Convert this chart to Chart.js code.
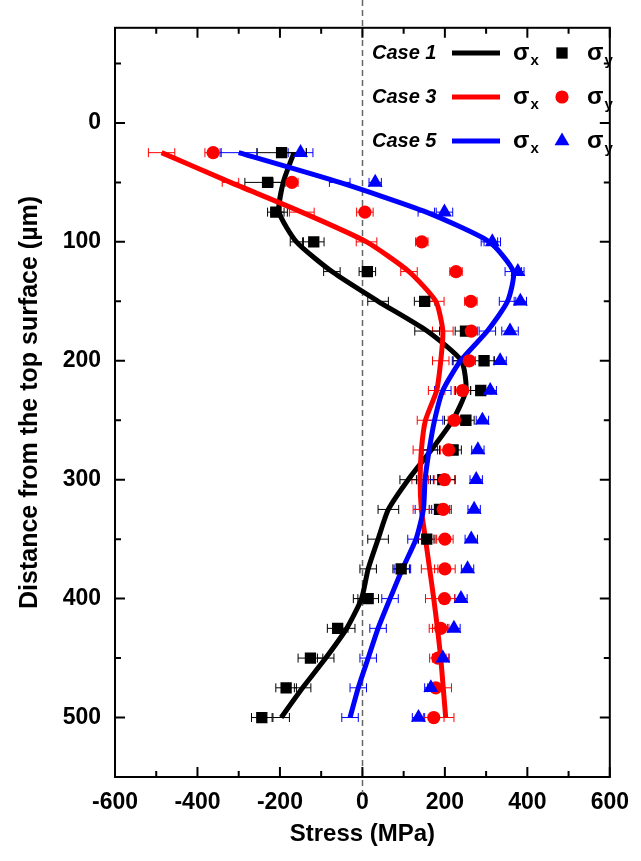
<!DOCTYPE html>
<html>
<head>
<meta charset="utf-8">
<script src="https://cdn.jsdelivr.net/npm/chart.js@4.4.1/dist/chart.umd.min.js"></script>
<style>
    html, body { margin: 0; padding: 0; background: #fff; }
    #wrap { width: 641px; height: 861px; position: relative; }
</style>
</head>
<body>
<div id="wrap"><canvas id="stressChart"></canvas></div>
<script>
// depth below the top surface (µm)
const depth = [25, 50, 75, 100, 125, 150, 175, 200, 225, 250, 275, 300, 325, 350, 375, 400, 425, 450, 475, 500];

// Case 1
const case1Sx = [-166, -192, -202, -160, -74, 38, 157, 240, 251, 219, 167, 111, 63, 38, 14, -2, -38, -89, -145, -197];
const case1SxErr = [30, 25, 20, 15, 20, 25, 30, 20, 25, 20, 20, 20, 25, 25, 20, 20, 20, 20, 20, 20];
const case1Sy = [-196, -230, -210, -118, 12, 151, 250, 295, 287, 251, 220, 195, 187, 156, 94, 14, -60, -126, -185, -244];
const case1SyErr = [60, 55, 20, 25, 20, 25, 25, 25, 25, 20, 20, 30, 25, 20, 20, 25, 25, 30, 25, 25];

// Case 3
const case3Sx = [-487, -320, -147, 10, 113, 178, 195, 190, 180, 153, 143, 140, 143, 153, 163, 173, 182, 190, 196, 202];
const case3SxErr = [32, 20, 30, 25, 20, 20, 25, 20, 20, 20, 20, 20, 20, 20, 20, 20, 20, 20, 20, 20];
const case3Sy = [-362, -171, 6, 144, 227, 263, 264, 259, 243, 223, 209, 199, 196, 200, 200, 199, 190, 183, 178, 173];
const case3SyErr = [20, 15, 20, 15, 15, 15, 15, 15, 20, 15, 20, 25, 20, 20, 25, 25, 20, 20, 20, 25];

// Case 5
const case5Sx = [-300, -55, 155, 308, 366, 352, 303, 238, 195, 175, 162, 152, 148, 130, 97, 67, 38, 14, -10, -30];
const case5SxErr = [45, 25, 20, 20, 20, 20, 20, 20, 20, 20, 20, 20, 20, 20, 20, 20, 20, 20, 20, 20];
const case5Sy = [-150, 31, 199, 315, 377, 383, 358, 334, 310, 291, 280, 276, 271, 264, 255, 239, 222, 195, 166, 136];
const case5SyErr = [30, 15, 20, 20, 15, 15, 20, 15, 15, 15, 15, 15, 15, 15, 15, 15, 15, 15, 15, 15];

const caseLabels = ['Case 1', 'Case 3', 'Case 5'];
const caseColors = ['#000000', '#ff0000', '#0000ff'];
const caseMarkers = ['rect', 'circle', 'triangle'];
const markerRadius = {rect: 8, circle: 6.6, triangle: 8.6};

const xTicks = [-600, -400, -200, 0, 200, 400, 600];
const xMinorTicks = [-500, -300, -100, 100, 300, 500];
const yTicks = [0, 100, 200, 300, 400, 500];
const yMinorTicks = [-50, 50, 150, 250, 350, 450];

const FONT = "'Liberation Sans', Arial, sans-serif";

const toPoints = (xs) => xs.map((v, i) => ({x: v, y: depth[i]}));

function lineSet(label, xs, err, color, order) {
    return {
        label, data: toPoints(xs), errorBars: err,
        showLine: true, borderColor: color, borderWidth: 5,
        pointRadius: 0, tension: 0.2, fill: false, order
    };
}

function markerSet(label, xs, err, color, style, order) {
    return {
        label, data: toPoints(xs), errorBars: err,
        showLine: false, pointStyle: style, pointRadius: markerRadius[style],
        backgroundColor: color, borderColor: color, borderWidth: 0, order
    };
}

// horizontal error bars, drawn under the marks
const errorBars = {
    id: 'errorBars',
    beforeDatasetsDraw(chart) {
        const {ctx, scales: {x, y}} = chart;
        ctx.save();
        ctx.lineWidth = 1;
        chart.data.datasets.forEach(ds => {
            ctx.strokeStyle = ds.borderColor;
            ctx.beginPath();
            ds.data.forEach((p, i) => {
                const e = ds.errorBars[i];
                const x1 = x.getPixelForValue(p.x - e), x2 = x.getPixelForValue(p.x + e);
                const py = y.getPixelForValue(p.y);
                ctx.moveTo(x1, py); ctx.lineTo(x2, py);
                ctx.moveTo(x1, py - 4.5); ctx.lineTo(x1, py + 4.5);
                ctx.moveTo(x2, py - 4.5); ctx.lineTo(x2, py + 4.5);
            });
            ctx.stroke();
        });
        ctx.restore();
    }
};

// dashed zero line, runs past the frame
const zeroLine = {
    id: 'zeroLine',
    beforeDatasetsDraw(chart) {
        const {ctx, chartArea: a, scales: {x}} = chart;
        const px = Math.round(x.getPixelForValue(0)) + 0.5;
        ctx.save();
        ctx.strokeStyle = '#666';
        ctx.lineWidth = 1.5;
        ctx.setLineDash([6, 4]);
        ctx.beginPath();
        ctx.moveTo(px, 0);
        ctx.lineTo(px, a.bottom + 16);
        ctx.stroke();
        ctx.restore();
    }
};

// box with inward ticks on all four sides
const frame = {
    id: 'frame',
    afterDatasetsDraw(chart) {
        const {ctx, chartArea: a, scales: {x, y}} = chart;
        ctx.save();
        ctx.strokeStyle = '#000';
        ctx.lineWidth = 2;
        ctx.strokeRect(a.left, a.top, a.right - a.left, a.bottom - a.top);
        ctx.beginPath();
        const xt = (v, len) => {
            const px = x.getPixelForValue(v);
            ctx.moveTo(px, a.bottom); ctx.lineTo(px, a.bottom - len);
            ctx.moveTo(px, a.top); ctx.lineTo(px, a.top + len);
        };
        const yt = (v, len) => {
            const py = y.getPixelForValue(v);
            ctx.moveTo(a.left, py); ctx.lineTo(a.left + len, py);
            ctx.moveTo(a.right, py); ctx.lineTo(a.right - len, py);
        };
        xTicks.forEach(v => xt(v, 10));
        xMinorTicks.forEach(v => xt(v, 6));
        yTicks.forEach(v => yt(v, 10));
        yMinorTicks.forEach(v => yt(v, 6));
        ctx.stroke();
        ctx.restore();
    }
};

function drawSigma(ctx, x, y, sub) {
    ctx.font = `bold 24px ${FONT}`;
    ctx.fillText('σ', x, y);
    const w = ctx.measureText('σ').width;
    ctx.font = `bold 15px ${FONT}`;
    ctx.fillText(sub, x + w + 1, y + 8);
}

const caseLegend = {
    id: 'caseLegend',
    afterDraw(chart) {
        const {ctx} = chart;
        const rowY = [53, 97, 141];
        ctx.save();
        ctx.textBaseline = 'middle';
        ctx.textAlign = 'left';
        caseLabels.forEach((lab, i) => {
            const cy = rowY[i];
            ctx.fillStyle = '#000';
            ctx.font = `italic bold 20px ${FONT}`;
            ctx.fillText(lab, 372, cy);
            ctx.strokeStyle = caseColors[i];
            ctx.lineWidth = 5;
            ctx.beginPath();
            ctx.moveTo(452, cy); ctx.lineTo(500, cy);
            ctx.stroke();
            ctx.fillStyle = '#000';
            drawSigma(ctx, 513, cy, 'x');
            ctx.fillStyle = caseColors[i];
            const st = caseMarkers[i];
            Chart.helpers.drawPoint(ctx, {pointStyle: st, radius: markerRadius[st], borderWidth: 0, rotation: 0}, 562, cy);
            ctx.fillStyle = '#000';
            drawSigma(ctx, 587, cy, 'y');
        });
        ctx.restore();
    }
};

const datasets = [
    markerSet('Case 5 σy', case5Sy, case5SyErr, caseColors[2], 'triangle', 1),
    markerSet('Case 3 σy', case3Sy, case3SyErr, caseColors[1], 'circle', 2),
    markerSet('Case 1 σy', case1Sy, case1SyErr, caseColors[0], 'rect', 3),
    lineSet('Case 5 σx', case5Sx, case5SxErr, caseColors[2], 4),
    lineSet('Case 3 σx', case3Sx, case3SxErr, caseColors[1], 5),
    lineSet('Case 1 σx', case1Sx, case1SxErr, caseColors[0], 6)
];

const ctx = document.getElementById('stressChart').getContext('2d');
new Chart(ctx, {
    type: 'scatter',
    data: {datasets},
    options: {
        responsive: true,
        maintainAspectRatio: false,
        animation: false,
        layout: {padding: {top: 24, right: 27, left: 0, bottom: 0}},
        plugins: {legend: {display: false}, tooltip: {enabled: false}},
        scales: {
            x: {
                min: -600, max: 600,
                afterBuildTicks: s => { s.ticks = xTicks.map(v => ({value: v})); },
                afterFit: s => { s.height = 84; },
                grid: {display: false, drawTicks: false},
                border: {display: false},
                ticks: {color: '#000', padding: 12, font: {family: FONT, size: 23, weight: 'bold'}},
                title: {display: true, text: 'Stress (MPa)', color: '#000', padding: {top: 0, bottom: 12},
                        font: {family: FONT, size: 24, weight: 'bold'}}
            },
            y: {
                min: -80, max: 550, reverse: true,
                afterBuildTicks: s => { s.ticks = yTicks.map(v => ({value: v})); },
                afterFit: s => { s.width = 115; },
                grid: {display: false, drawTicks: false},
                border: {display: false},
                ticks: {color: '#000', padding: 14, font: {family: FONT, size: 23, weight: 'bold'}},
                title: {display: true, text: 'Distance from the top surface (µm)', color: '#000', padding: {top: 15, bottom: 0},
                        font: {family: FONT, size: 25, weight: 'bold'}}
            }
        }
    },
    plugins: [errorBars, zeroLine, frame, caseLegend]
});
</script>
</body>
</html>
